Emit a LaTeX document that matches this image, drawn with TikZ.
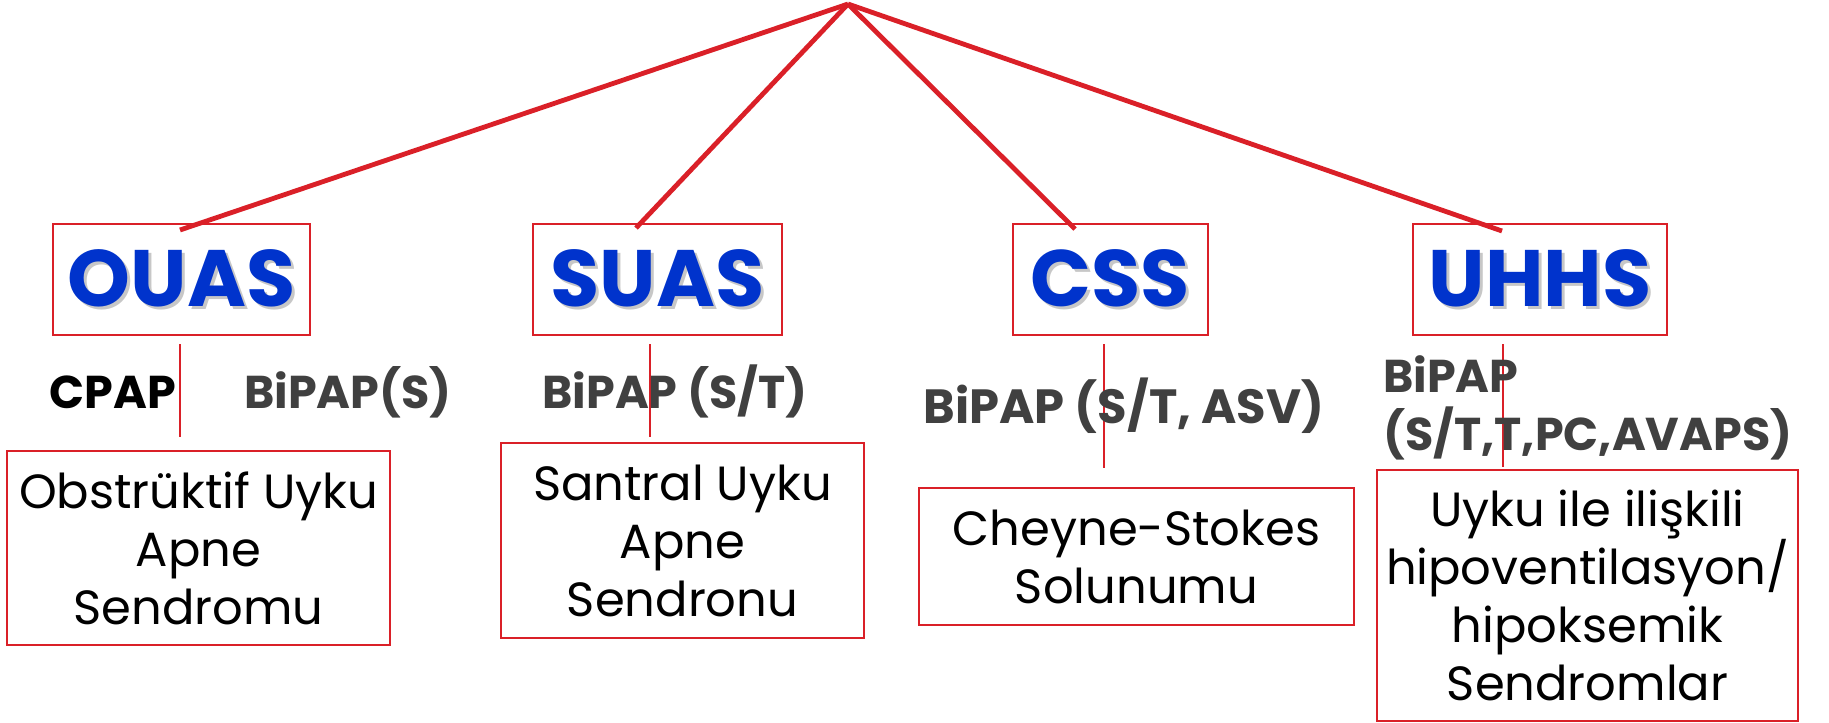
\documentclass[tikz,border=0pt]{standalone}
\usepackage{fontspec}
\setmainfont{Poppins}
\usetikzlibrary{calc}
\definecolor{lred}{RGB}{218,32,40}
\definecolor{hblue}{RGB}{0,51,204}
\definecolor{tgray}{RGB}{64,64,64}
\newcommand{\shd}[1]{\makebox[0pt][l]{\hspace{3pt}\raisebox{-3pt}{\color{black!22}#1}}#1}
\tikzset{
  treeline/.style={draw=lred, line width=4.8pt},
  stemline/.style={draw=lred, line width=1.5pt},
  headbox/.style={draw=lred, line width=2pt, rectangle, inner sep=0pt, minimum height=111pt,
    font=\fontsize{80}{80}\selectfont\bfseries, text=hblue},
  descbox/.style={draw=lred, line width=2pt, rectangle, inner sep=0pt, align=center,
    font=\fontsize{48}{58}\selectfont, text=black},
  modelabel/.style={inner sep=0pt, font=\fontsize{46}{58}\selectfont\bfseries, text=tgray},
}
\begin{document}
\begin{tikzpicture}[x=1pt,y=-1pt]
\useasboundingbox (0,0) rectangle (1829,723);
\coordinate (apex) at (848,4);
% headings
\node[headbox, minimum width=257pt] (ouas) at (181.5,279.5) {\shd{OUAS}};
\node[headbox, minimum width=249pt] (suas) at (657.5,279.5) {\shd{SUAS}};
\node[headbox, minimum width=195pt] (css) at (1110.5,279.5) {\shd{CSS}};
\node[headbox, minimum width=254pt] (uhhs) at (1540,279.5) {\shd{UHHS}};
% description boxes
\node[descbox, minimum width=383pt, minimum height=194pt] (ouasd) at (198.5,548) {Obstrüktif Uyku\\Apne\\Sendromu};
\node[descbox, minimum width=363pt, minimum height=195pt] (suasd) at (682.5,540.5) {Santral Uyku\\Apne\\Sendronu};
\node[descbox, minimum width=435pt, minimum height=137pt] (cssd) at (1136.5,556.5) {Cheyne-Stokes\\Solunumu};
\node[descbox, minimum width=421pt, minimum height=251pt] (uhhsd) at (1587.5,595.5) {Uyku ile ilişkili\\hipoventilasyon/\\hipoksemik\\Sendromlar};
% tree connectors
\draw[treeline] (apex) -- ([shift={(-1.5pt,-7pt)}]ouas.north);
\draw[treeline] (apex) -- ([shift={(-21.5pt,-5pt)}]suas.north);
\draw[treeline] (apex) -- ([shift={(-35.5pt,-6pt)}]css.north);
\draw[treeline] (apex) -- ([shift={(-38pt,-8pt)}]uhhs.north);
% stems
\draw[stemline] ([shift={(-1.5pt,-8pt)}]ouas.south) -- ([shift={(-18.5pt,13pt)}]ouasd.north);
\draw[stemline] ([shift={(-7.5pt,-8pt)}]suas.south) -- ([shift={(-32.5pt,5pt)}]suasd.north);
\draw[stemline] ([shift={(-6.5pt,-8pt)}]css.south) -- ([shift={(-32.5pt,19pt)}]cssd.north);
\draw[stemline] ([shift={(-37pt,-8pt)}]uhhs.south) -- ([shift={(-84.5pt,2pt)}]uhhsd.north);
% mode labels
\node[modelabel, text=black, anchor=base] (cpap) at (113,408) {CPAP};
\node[modelabel, anchor=base] (bipaps) at (348,408) {BiPAP(S)};
\node[modelabel, anchor=base] (bipapst) at (675,408) {BiPAP (S/T)};
\node[modelabel, font=\fontsize{48}{58}\selectfont\bfseries, anchor=base] (bipapasv) at (1124,423) {BiPAP (S/T, ASV)};
\node[modelabel, anchor=west, align=left] (bipapuh) at (1383,408) {BiPAP\\(S/T,T,PC,AVAPS)};
\end{tikzpicture}
\end{document}
